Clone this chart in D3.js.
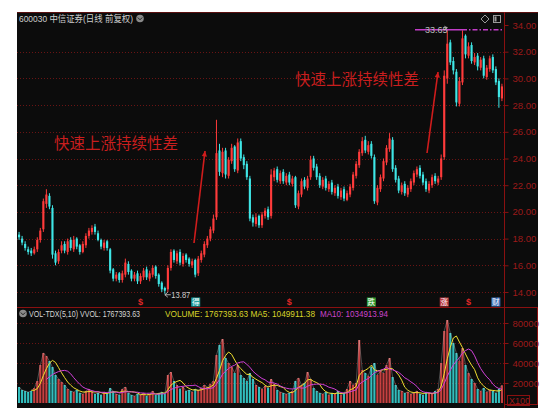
<!DOCTYPE html>
<html><head><meta charset="utf-8">
<script src="https://cdn.jsdelivr.net/npm/d3@7"></script>
<style>body{margin:0;background:#fff}svg{display:block}</style>
</head><body><svg id="c" width="550" height="411"></svg>
<script>
const openP = [18.3,18.0,17.6,17.2,17.1,16.9,17.2,17.9,18.7,20.6,
21.2,20.3,16.9,16.3,17.1,17.6,17.0,17.9,17.2,18.0,
17.5,17.0,17.5,18.2,18.5,18.9,18.4,17.9,17.3,17.8,
17.2,15.7,15.0,15.4,14.9,15.3,16.1,15.6,15.0,15.4,
14.8,15.1,15.7,15.0,15.3,15.9,15.3,14.7,14.3,14.2,
15.8,17.1,16.3,17.0,16.1,16.8,16.5,16.0,16.4,15.4,
16.4,16.8,17.5,18.0,18.6,19.6,24.6,22.9,24.6,22.7,
23.8,24.9,23.1,25.3,24.1,23.6,22.5,19.6,19.1,19.7,
19.0,19.7,20.2,19.7,22.6,23.2,22.3,23.0,22.2,22.8,
22.1,22.6,20.4,21.3,22.4,21.8,22.6,24.0,23.4,22.7,
21.9,22.5,21.7,22.2,21.4,21.9,21.1,21.7,20.9,21.3,
21.8,22.7,23.5,24.4,25.4,24.5,25.1,24.1,20.7,21.7,
22.5,23.7,24.7,25.4,23.3,22.5,21.5,22.1,21.3,21.7,
22.2,22.8,23.3,22.8,22.3,21.6,22.0,22.7,22.2,22.6,
24.1,30.0,32.7,31.3,30.5,28.1,29.7,33.2,31.7,32.5,
31.2,31.7,30.8,31.5,30.1,30.7,31.6,30.7,29.8,28.5];
const closeP = [18.1,17.7,17.3,17.0,16.9,17.2,17.9,18.6,20.8,21.3,
20.4,16.8,16.2,17.0,17.5,17.1,17.8,17.3,17.9,17.4,
17.0,17.6,18.2,18.6,18.8,18.5,17.9,17.4,17.7,17.3,
15.6,15.0,15.3,14.9,15.4,16.2,15.5,15.0,15.3,14.8,
15.2,15.6,15.1,15.4,15.8,15.2,14.6,14.2,14.1,15.8,
17.0,16.4,16.9,16.2,16.7,16.4,16.1,16.3,15.3,16.5,
16.9,17.6,18.0,18.7,19.5,24.4,23.0,24.5,22.8,23.9,
24.8,23.2,25.2,24.0,23.5,22.6,19.5,19.2,19.6,19.0,
19.8,20.1,19.6,22.8,23.1,22.4,22.9,22.3,22.7,22.2,
22.5,20.5,21.4,22.3,21.9,22.5,23.9,23.3,22.6,22.0,
22.4,21.8,22.1,21.5,21.8,21.2,21.6,21.0,21.4,21.9,
22.8,23.6,24.5,25.3,24.6,25.0,24.2,20.8,21.8,22.6,
23.8,24.8,25.5,23.2,22.4,21.6,22.0,21.4,21.8,22.3,
22.9,23.2,22.7,22.2,21.7,22.1,22.6,22.3,22.5,24.0,
30.2,32.6,31.2,30.6,28.2,29.8,33.0,31.8,32.4,31.3,
31.6,30.9,31.4,30.2,30.8,31.5,30.6,29.7,28.6,29.4];
const highP = [18.5,18.2,17.8,17.4,17.3,17.4,18.1,18.8,21.0,21.7,
21.4,20.5,17.1,17.2,17.8,17.8,18.0,18.1,18.2,18.1,
17.6,17.8,18.4,18.8,19.0,19.1,18.6,18.0,17.9,17.9,
17.3,15.8,15.5,15.5,15.6,16.5,16.3,15.7,15.5,15.6,
15.4,15.8,15.9,15.6,16.0,16.0,15.4,14.8,14.4,16.0,
17.2,17.2,17.1,17.2,16.9,16.9,16.6,16.5,16.5,16.7,
17.1,17.8,18.2,18.9,19.8,26.9,25.1,24.8,24.8,24.1,
25.1,25.0,25.5,25.5,24.3,23.8,22.7,19.8,19.9,19.8,
20.0,20.3,20.4,23.2,23.3,23.4,23.1,23.2,22.9,23.0,
22.7,22.7,21.6,22.5,22.6,22.7,24.2,24.2,23.6,22.9,
22.6,22.7,22.3,22.4,22.0,22.1,21.8,21.9,21.6,22.1,
23.0,23.8,24.7,25.6,25.7,25.3,25.3,24.3,22.0,22.8,
24.0,25.0,25.9,25.6,23.5,22.7,22.2,22.3,22.0,22.5,
23.1,23.4,23.5,23.0,22.5,22.3,22.8,22.9,22.7,24.3,
30.6,33.65,32.9,31.6,30.7,30.1,33.6,33.3,32.7,32.7,
31.9,31.9,31.6,31.7,31.0,31.7,31.8,30.9,30.0,29.6];
const lowP = [17.9,17.5,17.1,16.8,16.7,16.8,17.0,17.7,18.5,20.3,
20.2,16.5,16.0,16.1,16.9,16.9,16.8,17.1,17.0,17.2,
16.8,16.9,17.3,18.0,18.3,18.3,17.8,17.2,17.1,17.1,
15.4,14.8,14.8,14.7,14.7,15.1,15.3,14.8,14.8,14.6,
14.6,14.9,14.9,14.8,15.1,15.0,14.4,14.0,13.87,14.0,
15.6,16.2,16.1,16.0,15.9,16.2,15.9,15.8,15.1,15.2,
16.2,16.6,17.3,17.8,18.4,19.4,22.7,22.6,22.5,22.5,
23.6,23.0,22.9,23.8,23.2,22.4,19.3,18.9,18.9,18.8,
18.8,19.5,19.4,19.5,22.3,22.2,22.1,22.1,22.0,22.0,
21.9,20.3,20.2,21.1,21.7,21.6,22.4,23.1,22.4,21.8,
21.7,21.6,21.5,21.3,21.2,21.0,20.9,20.8,20.8,21.1,
21.6,22.5,23.3,24.2,24.4,24.3,24.0,20.6,20.5,21.5,
22.3,23.5,24.5,23.0,22.2,21.4,21.3,21.2,21.1,21.5,
22.0,22.6,22.5,22.0,21.5,21.4,21.8,22.1,22.0,22.4,
23.9,29.6,31.0,30.3,27.9,27.9,29.5,31.5,31.5,31.1,
31.0,30.6,30.6,30.0,29.9,30.5,30.4,29.5,27.8,28.3];
const volume = [16000,13000,12000,11000,12000,15000,22000,38000,50000,47000,
42000,36000,28000,24000,21000,18000,14000,12000,11000,13000,
10000,9000,12000,14000,11000,9000,10000,8000,11000,9000,
15000,12000,9000,8000,14000,16000,10000,8000,7000,9000,
8000,10000,7000,9000,12000,8000,10000,11000,9000,28000,
31000,22000,18000,14000,16000,12000,13000,11000,14000,13000,
15000,18000,16000,19000,22000,48000,58000,64000,45000,40000,
36000,30000,38000,28000,25000,22000,30000,24000,18000,16000,
14000,17000,15000,24000,19000,13000,11000,10000,9000,10000,
12000,22000,25000,18000,20000,31000,24000,15000,12000,10000,
9000,11000,8000,10000,9000,12000,8000,10000,14000,22000,
18000,20000,63000,33000,30000,27000,36000,40000,28000,32000,
30000,38000,45000,26000,18000,13000,12000,10000,11000,9000,
10000,12000,9000,8000,11000,10000,9000,12000,14000,40000,
72000,83000,70000,60000,50000,42000,55000,38000,30000,24000,
20000,14000,12000,15000,11000,13000,12000,10000,14000,17674];
const priceTicks = [14,16,18,20,22,24,26,28,30,32,34];
const volTicks = [20000,40000,60000,80000];
const titleText = "600030 中信证券(日线 前复权)";
const noteText = "快速上涨持续性差";
const headerParts = [
  {t:"VOL-TDX(5,10) VVOL: 1767393.63", x:29, w:111, c:"#d6d6d6"},
  {t:"VOLUME: 1767393.63  MA5: 1049911.38", x:165, w:150, c:"#d8d428"},
  {t:"MA10: 1034913.94", x:320, w:68, c:"#cc44cc"}
];
const signals = [
  {i:40, t:"$", kind:"s"},
  {i:58, t:"得", kind:"box", c:"#1f9e9e"},
  {i:89, t:"$", kind:"s"},
  {i:116, t:"跌", kind:"box", c:"#2f9a2f"},
  {i:140, t:"涨", kind:"box", c:"#b8383c"},
  {i:148, t:"$", kind:"s"},
  {i:157, t:"财", kind:"box", c:"#3b6fb8"}
];

const svg = d3.select("#c");
const L=17, R=504, T=12, B=408, AX=538;
const n = closeP.length;
const x = d3.scaleBand().domain(d3.range(n)).range([L+1, R-1]).paddingInner(0.3);
const y = d3.scaleLinear().domain([14,34]).range([292,25]);
const yv = d3.scaleLinear().domain([0,80000]).range([403,323]);
const UP="#ff3b3b", DN="#3fe6e6";
const cx = i => x(i) + x.bandwidth()/2;
const FONT = "'Liberation Sans', Arial, 'Noto Sans CJK SC', sans-serif";

svg.append("rect").attr("x",0).attr("y",0).attr("width",550).attr("height",411).attr("fill","#fff");
svg.append("rect").attr("x",L).attr("y",T).attr("width",AX-L).attr("height",B-T).attr("fill","#0c0c0c");

// grids
const grid = svg.append("g");
priceTicks.filter(v=>v<34).forEach(v=>{
  grid.append("line").attr("x1",L).attr("x2",R).attr("y1",Math.round(y(v))+0.5).attr("y2",Math.round(y(v))+0.5)
   .attr("stroke","#6a1414").attr("stroke-dasharray","1,2");
});
volTicks.forEach(v=>{
  grid.append("line").attr("x1",L).attr("x2",R).attr("y1",Math.round(yv(v))+0.5).attr("y2",Math.round(yv(v))+0.5)
   .attr("stroke","#6a1414").attr("stroke-dasharray","1,2");
});

// frame lines
svg.append("line").attr("x1",L).attr("x2",AX).attr("y1",T+0.5).attr("y2",T+0.5).attr("stroke","#5a1010");
svg.append("line").attr("x1",R+0.5).attr("x2",R+0.5).attr("y1",T).attr("y2",B).attr("stroke","#8a1010");
svg.append("line").attr("x1",L).attr("x2",AX).attr("y1",307.5).attr("y2",307.5).attr("stroke","#8a1010");
svg.append("rect").attr("x",R+0.5).attr("y",307.5).attr("width",AX-R-1).attr("height",97).attr("fill","none").attr("stroke","#8a1010");

// axes
function styleAxis(g){
  g.select(".domain").remove();
  g.selectAll("line").attr("stroke","#8a1010");
  g.selectAll("text").attr("fill","#9c1a1a").attr("font-family",FONT).attr("font-size","9.5px").attr("x",8);
}
svg.append("g").attr("transform",`translate(${R+0.5},0)`)
  .call(d3.axisRight(y).tickValues(priceTicks).tickFormat(d3.format(".2f")).tickSize(4).tickSizeOuter(0)).call(styleAxis);
svg.append("g").attr("transform",`translate(${R+0.5},0)`)
  .call(d3.axisRight(yv).tickValues(volTicks).tickFormat(d3.format("d")).tickSize(4).tickSizeOuter(0)).call(styleAxis);
svg.append("rect").attr("x",507.5).attr("y",395.5).attr("width",22).attr("height",10).attr("fill","none").attr("stroke","#8a1010");
svg.append("text").attr("x",509).attr("y",404).text("X100").attr("fill","#9c1a1a").attr("font-family",FONT).attr("font-size","9px");

// candles
const cg = svg.append("g");
d3.range(n).forEach(i=>{
  const up = closeP[i] >= openP[i];
  const col = up ? UP : DN;
  cg.append("line").attr("x1",cx(i)).attr("x2",cx(i)).attr("y1",y(highP[i])).attr("y2",y(lowP[i])).attr("stroke",col).attr("stroke-width",1);
  const y0 = y(Math.max(openP[i],closeP[i])), y1 = y(Math.min(openP[i],closeP[i]));
  cg.append("rect").attr("x",x(i)).attr("y",y0).attr("width",x.bandwidth()).attr("height",Math.max(1,y1-y0)).attr("fill",col);
});

// volume bars
const vg = svg.append("g");
d3.range(n).forEach(i=>{
  const up = closeP[i] >= openP[i];
  vg.append("rect").attr("x",x(i)).attr("y",yv(volume[i])).attr("width",x.bandwidth()).attr("height",yv(0)-yv(volume[i]))
    .attr("fill", up ? "#e84a4a" : "#39dede").attr("opacity",0.85);
});
const ma = k => volume.map((v,i)=> i<k-1 ? null : d3.mean(volume.slice(i-k+1,i+1)));
const ma5 = ma(5), ma10 = ma(10);
const lineGen = d3.line().defined(d=>d[1]!=null).x(d=>cx(d[0])).y(d=>yv(d[1]));
svg.append("path").attr("d",lineGen(volume.map((v,i)=>[i,v]))).attr("fill","none").attr("stroke","#e0e0e0").attr("stroke-width",0.6).attr("opacity",0.5);
svg.append("path").attr("d",lineGen(ma5.map((v,i)=>[i,v]))).attr("fill","none").attr("stroke","#f0e030").attr("stroke-width",1);
svg.append("path").attr("d",lineGen(ma10.map((v,i)=>[i,v]))).attr("fill","none").attr("stroke","#d040d8").attr("stroke-width",1);

// title
svg.append("text").attr("x",19).attr("y",22).text(titleText).attr("fill","#cfcfcf").attr("font-family",FONT).attr("font-size","9.5px")
  .attr("textLength",114).attr("lengthAdjust","spacingAndGlyphs");
svg.append("circle").attr("cx",140).attr("cy",18.5).attr("r",3.8).attr("fill","#8a8a8a");
svg.append("path").attr("d","M137.8,17.5 L140,19.8 L142.2,17.5").attr("fill","none").attr("stroke","#222").attr("stroke-width",1);
// top-right icons
svg.append("path").attr("d","M485,15 L489,19 L485,23 L481,19 Z").attr("fill","none").attr("stroke","#9a9a9a");
svg.append("rect").attr("x",493.5).attr("y",15.5).attr("width",7).attr("height",7).attr("fill","none").attr("stroke","#9a9a9a");
svg.append("rect").attr("x",494.5).attr("y",16.5).attr("width",2).attr("height",5).attr("fill","#9a9a9a");

// high line 33.65
const yh = y(d3.max(highP));
svg.append("line").attr("x1",415).attr("x2",462).attr("y1",yh).attr("y2",yh).attr("stroke","#c23cc8").attr("stroke-width",1.5);
svg.append("line").attr("x1",462).attr("x2",503).attr("y1",yh).attr("y2",yh).attr("stroke","#c23cc8").attr("stroke-width",1.5).attr("stroke-dasharray","5,2,1.5,2");
svg.append("text").attr("x",425).attr("y",yh+3.5).text(d3.max(highP).toFixed(2)).attr("fill","#bbbbbb").attr("font-family",FONT).attr("font-size","9px");
svg.append("path").attr("d",`M444,${yh} L${cx(141)},${yh-2} M${cx(141)-3},${yh-3.5} L${cx(141)},${yh-2} L${cx(141)-3},${yh+0.5}`).attr("fill","none").attr("stroke","#bbbbbb").attr("stroke-width",0.8);

// low label 13.87
const li = lowP.indexOf(d3.min(lowP));
const yl = y(d3.min(lowP));
svg.append("path").attr("d",`M${cx(li)},${yl+1} L${cx(li)+6},${yl+1} M${cx(li)+3},${yl-1.5} L${cx(li)},${yl+1} L${cx(li)+3},${yl+3.5}`).attr("fill","none").attr("stroke","#cfcfcf").attr("stroke-width",0.8);
svg.append("text").attr("x",cx(li)+6.5).attr("y",yl+4).text(d3.min(lowP).toFixed(2)).attr("fill","#cfcfcf").attr("font-family",FONT).attr("font-size","8.5px")
  .attr("textLength",19).attr("lengthAdjust","spacingAndGlyphs");

// annotations
svg.append("text").attr("x",54).attr("y",149).text(noteText).attr("fill","#c81e1e").attr("font-family","'Noto Sans CJK SC', sans-serif").attr("font-size","15.5px");
svg.append("text").attr("x",295).attr("y",85).text(noteText).attr("fill","#c81e1e").attr("font-family","'Noto Sans CJK SC', sans-serif").attr("font-size","15.5px");
function arrow(x1,y1,x2,y2){
  svg.append("line").attr("x1",x1).attr("y1",y1).attr("x2",x2).attr("y2",y2).attr("stroke","#d01c1c").attr("stroke-width",1.6);
  const a = Math.atan2(y2-y1,x2-x1), s=6;
  const p1=[x2-s*Math.cos(a-0.45), y2-s*Math.sin(a-0.45)], p2=[x2-s*Math.cos(a+0.45), y2-s*Math.sin(a+0.45)];
  svg.append("path").attr("d",`M${x2},${y2} L${p1[0]},${p1[1]} L${p2[0]},${p2[1]} Z`).attr("fill","#d01c1c");
}
arrow(194,243,205,151);
arrow(427,153,438,72);

// signals
signals.forEach(s=>{
  const px = cx(s.i) + (s.kind==="box" && s.i===58 ? 0.5 : 0);
  if(s.kind==="s"){
    svg.append("text").attr("x",px).attr("y",305).attr("text-anchor","middle").text(s.t).attr("fill","#e02828").attr("font-family",FONT).attr("font-size","9px").attr("font-weight","bold");
  } else {
    svg.append("rect").attr("x",px-4.5).attr("y",297.5).attr("width",9).attr("height",9).attr("fill",s.c);
    svg.append("text").attr("x",px).attr("y",305).attr("text-anchor","middle").text(s.t).attr("fill","#fff").attr("font-family","'Noto Sans CJK SC', sans-serif").attr("font-size","7.5px");
  }
});

// volume header
svg.append("circle").attr("cx",23).attr("cy",313.5).attr("r",3.8).attr("fill","#8a8a8a");
svg.append("path").attr("d","M20.8,312.5 L23,314.8 L25.2,312.5").attr("fill","none").attr("stroke","#222").attr("stroke-width",1);
headerParts.forEach(h=>{
  svg.append("text").attr("x",h.x).attr("y",317).text(h.t).attr("fill",h.c).attr("font-family",FONT).attr("font-size","8.5px")
    .attr("textLength",h.w).attr("lengthAdjust","spacingAndGlyphs");
});
</script></body></html>
